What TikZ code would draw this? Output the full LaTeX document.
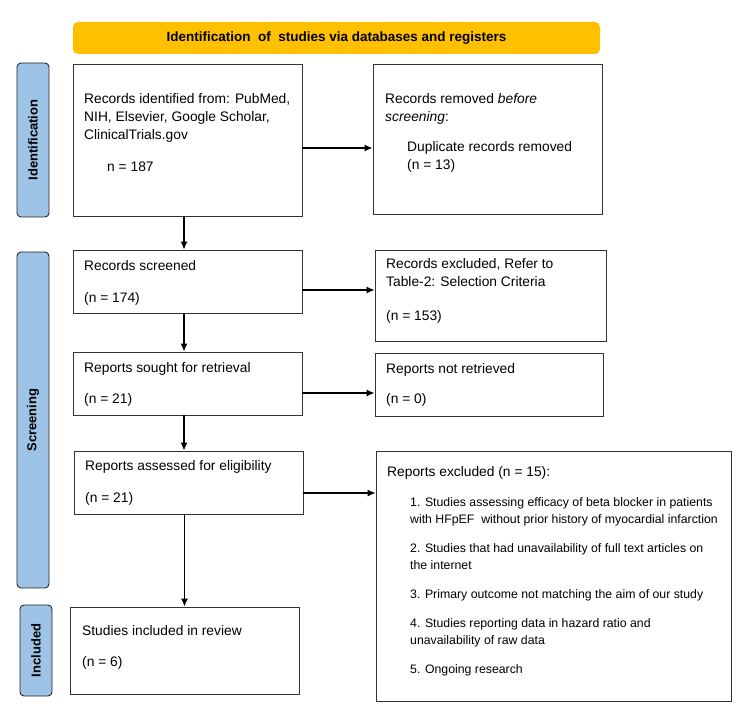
\documentclass[tikz,border=0pt]{standalone}
\usepackage{fontspec}
\setmainfont{Liberation Sans}
\usepackage{xcolor}
\usetikzlibrary{arrows.meta, positioning, calc}

\definecolor{prismagold}{HTML}{FFC000}
\definecolor{prismablue}{HTML}{9DC3E6}

\begin{document}
\begin{tikzpicture}[
  x=1pt, y=-1pt,
  box/.style={draw=black!80, line width=0.9pt, fill=white, inner sep=0pt},
  bar/.style={draw=black!85, line width=0.9pt, fill=prismablue, rounded corners=4pt,
              inner sep=0pt, minimum width=32pt},
  barlab/.style={rotate=90, font=\fontsize{13}{15}\bfseries\selectfont},
  txt/.style={anchor=base west, align=left, inner sep=0pt,
              font=\fontsize{13.8}{18}\selectfont},
  itm/.style={anchor=base west, align=left, inner sep=0pt,
              font=\fontsize{12.3}{17}\selectfont},
  arr/.style={-{Latex[length=8pt,width=7pt]}, line width=1.1pt}
]
\useasboundingbox (0,0) rectangle (750,722);

% banner
\node[fill=prismagold, rounded corners=5pt, minimum width=527pt, minimum height=32pt,
      font=\fontsize{13.5}{16}\bfseries\selectfont] (banner) at (336.5,38)
  {Identification\ \ of\ \ studies via databases and registers};

% side bars
\node[bar, minimum height=154pt] (idbar) at (33,140) {};
\node[barlab] at (idbar.center) {Identification};
\node[bar, minimum height=336pt] (scrbar) at (33,420) {};
\node[barlab] at (scrbar.center) {Screening};
\node[bar, minimum height=91pt] (inclbar) at (36,650.5) {};
\node[barlab] at (inclbar.center) {Included};

% boxes
\node[box, minimum width=229pt, minimum height=152pt] (idbox) at (187.5,140) {};
\node[box, minimum width=229pt, minimum height=150pt] (dupbox) at (487.5,139) {};
\node[box, minimum width=229pt, minimum height=63pt] (scrbox) at (187.5,281.5) {};
\node[box, minimum width=231pt, minimum height=91pt] (exclbox) at (490.5,295.5) {};
\node[box, minimum width=229pt, minimum height=63pt] (soughtbox) at (187.5,383.5) {};
\node[box, minimum width=228pt, minimum height=63pt] (notretbox) at (489,384.5) {};
\node[box, minimum width=229pt, minimum height=63pt] (assessbox) at (188.5,482.5) {};
\node[box, minimum width=355pt, minimum height=250pt] (repexbox) at (553.5,576) {};
\node[box, minimum width=229pt, minimum height=87pt] (inclbox) at (184.5,650.5) {};

% texts (base = baseline of the last line)
\node[txt] (idtxt) at (84,140) {Records identified from: PubMed,\\NIH, Elsevier, Google Scholar,\\ClinicalTrials.gov};
\node[txt] (idn) at (107,172) {n = 187};
\node[txt] (duptxt) at (385,122) {Records removed \textit{before}\\\textit{screening}:};
\node[txt] (dupn) at (407,170) {Duplicate records removed\\(n = 13)};
\node[txt] (scrtxt) at (84,271) {Records screened};
\node[txt] (scrn) at (84,302) {(n = 174)};
\node[txt] (excltxt) at (386,287) {Records excluded, Refer to\\Table-2: Selection Criteria};
\node[txt] (excln) at (386,320) {(n = 153)};
\node[txt] (soughttxt) at (84,372) {Reports sought for retrieval};
\node[txt] (soughtn) at (84,403) {(n = 21)};
\node[txt] (notrettxt) at (386,373) {Reports not retrieved};
\node[txt] (notretn) at (386,403) {(n = 0)};
\node[txt] (assesstxt) at (85,470) {Reports assessed for eligibility};
\node[txt] (assessn) at (85,502) {(n = 21)};
\node[txt] (repextxt) at (387,476) {Reports excluded (n = 15):};
\node[itm] (item1) at (410,523) {1. Studies assessing efficacy of beta blocker in patients\\with HFpEF\ \ without prior history of myocardial infarction};
\node[itm] (item2) at (410,569) {2. Studies that had unavailability of full text articles on\\the internet};
\node[itm] (item3) at (410,598) {3. Primary outcome not matching the aim of our study};
\node[itm] (item4) at (410,644) {4. Studies reporting data in hazard ratio and\\unavailability of raw data};
\node[itm] (item5) at (410,673) {5. Ongoing research};
\node[txt] (incltxt) at (82,635) {Studies included in review};
\node[txt] (incln) at (82,666) {(n = 6)};

% connectors
\draw[arr] ([yshift=-8pt]idbox.east) -- ([yshift=-8pt]idbox.east -| dupbox.west);
\draw[arr] ([yshift=-8.5pt]scrbox.east) -- ([yshift=-8.5pt]scrbox.east -| exclbox.west);
\draw[arr] ([yshift=-9.5pt]soughtbox.east) -- ([yshift=-9.5pt]soughtbox.east -| notretbox.west);
\draw[arr] ([yshift=-10.5pt]assessbox.east) -- ([yshift=-10.5pt]assessbox.east -| repexbox.west);
\draw[arr] ([xshift=-3.5pt]idbox.south) -- ([xshift=-3.5pt]scrbox.north);
\draw[arr] ([xshift=-3.5pt]scrbox.south) -- ([xshift=-3.5pt]soughtbox.north);
\draw[arr] ([xshift=-3.5pt]soughtbox.south) -- ([xshift=-3.5pt]soughtbox.south |- assessbox.north);
\draw[arr] (inclbox.north |- assessbox.south) -- (inclbox.north);
\end{tikzpicture}
\end{document}
